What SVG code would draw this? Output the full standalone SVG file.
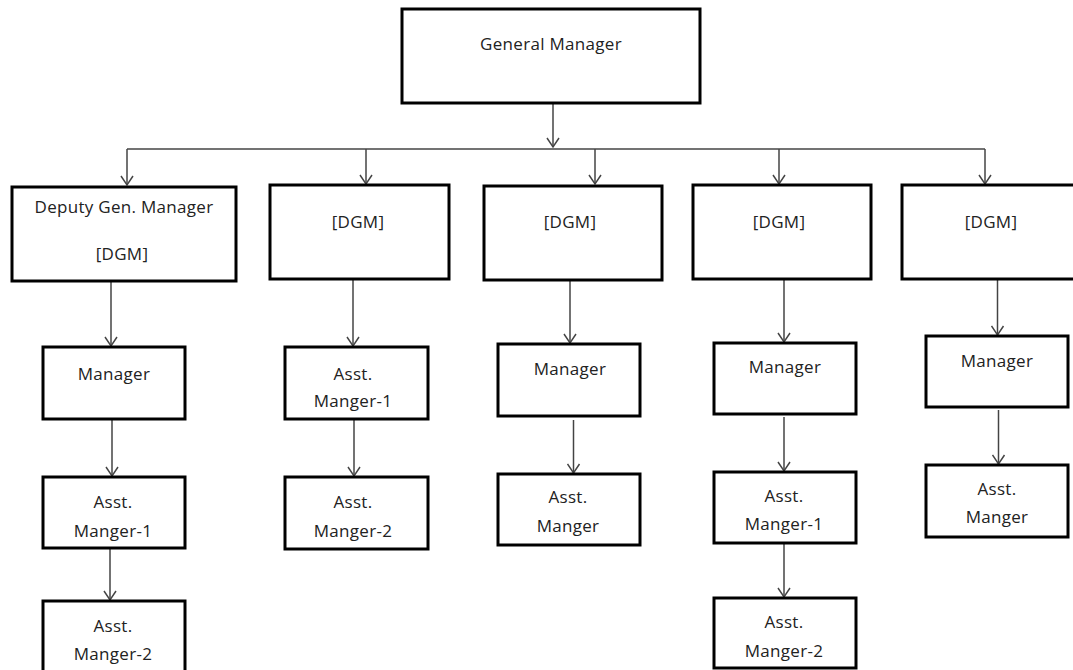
<svg xmlns="http://www.w3.org/2000/svg" width="1073" height="670" viewBox="0 0 1073 670">
<style>
.box{fill:#fff;stroke:#000;stroke-width:3}
.t{font-family:"Open Sans",sans-serif;font-size:17px;fill:#222;text-anchor:middle;letter-spacing:0.3px}
.c{fill:none;stroke:#444;stroke-width:1.5}
</style>
<defs>
<marker id="a" viewBox="-11 -7 13 14" markerWidth="13" markerHeight="14" refX="0" refY="0" orient="auto" markerUnits="userSpaceOnUse">
<path d="M-9,-6 L0,0 L-9,6" fill="none" stroke="#444" stroke-width="1.5"/>
</marker>
</defs>
<g id="connectors">
<line class="c" x1="553" y1="103" x2="553" y2="147" marker-end="url(#a)"/>
<line class="c" x1="127" y1="149" x2="985" y2="149"/>
<line class="c" x1="127" y1="149" x2="127" y2="185" marker-end="url(#a)"/>
<line class="c" x1="366" y1="149" x2="366" y2="184" marker-end="url(#a)"/>
<line class="c" x1="595" y1="149" x2="595" y2="184" marker-end="url(#a)"/>
<line class="c" x1="779" y1="149" x2="779" y2="184" marker-end="url(#a)"/>
<line class="c" x1="985" y1="149" x2="985" y2="184" marker-end="url(#a)"/>
<line class="c" x1="111" y1="281" x2="111" y2="346" marker-end="url(#a)"/>
<line class="c" x1="112" y1="419" x2="112" y2="476" marker-end="url(#a)"/>
<line class="c" x1="110" y1="548" x2="110" y2="600" marker-end="url(#a)"/>
<line class="c" x1="353" y1="279" x2="353" y2="346" marker-end="url(#a)"/>
<line class="c" x1="354" y1="419" x2="354" y2="476" marker-end="url(#a)"/>
<line class="c" x1="570" y1="280" x2="570" y2="343" marker-end="url(#a)"/>
<line class="c" x1="573.5" y1="420" x2="573.5" y2="473" marker-end="url(#a)"/>
<line class="c" x1="784" y1="279" x2="784" y2="342" marker-end="url(#a)"/>
<line class="c" x1="784" y1="417" x2="784" y2="471" marker-end="url(#a)"/>
<line class="c" x1="784" y1="543" x2="784" y2="597" marker-end="url(#a)"/>
<line class="c" x1="997.5" y1="277" x2="997.5" y2="335" marker-end="url(#a)"/>
<line class="c" x1="998.5" y1="410" x2="998.5" y2="464" marker-end="url(#a)"/>
</g>
<g id="gm"><rect class="box" x="402" y="9" width="298" height="94"/><text class="t" x="551" y="50">General Manager</text></g>
<g id="dgm1"><rect class="box" x="12" y="187" width="224" height="94"/><text class="t" x="124" y="213">Deputy Gen. Manager</text><text class="t" x="122" y="260">[DGM]</text></g>
<g id="dgm2"><rect class="box" x="270" y="185" width="179" height="94"/><text class="t" x="358" y="228">[DGM]</text></g>
<g id="dgm3"><rect class="box" x="484" y="186" width="178" height="94"/><text class="t" x="570" y="228">[DGM]</text></g>
<g id="dgm4"><rect class="box" x="693" y="185" width="178" height="94"/><text class="t" x="779" y="228">[DGM]</text></g>
<g id="dgm5"><rect class="box" x="902" y="185" width="190" height="94"/><text class="t" x="991" y="228">[DGM]</text></g>
<g id="c1m"><rect class="box" x="43" y="347" width="142" height="72"/><text class="t" x="114" y="380">Manager</text></g>
<g id="c1a1"><rect class="box" x="43" y="477" width="142" height="71"/><text class="t" x="113" y="508">Asst.</text><text class="t" x="113" y="537">Manger-1</text></g>
<g id="c1a2"><rect class="box" x="43" y="601" width="142" height="80"/><text class="t" x="113" y="632">Asst.</text><text class="t" x="113" y="660">Manger-2</text></g>
<g id="c2a1"><rect class="box" x="285" y="347" width="143" height="72"/><text class="t" x="353" y="380">Asst.</text><text class="t" x="353" y="407">Manger-1</text></g>
<g id="c2a2"><rect class="box" x="285" y="477" width="143" height="72"/><text class="t" x="353" y="508">Asst.</text><text class="t" x="353" y="537">Manger-2</text></g>
<g id="c3m"><rect class="box" x="498" y="344" width="142" height="72"/><text class="t" x="570" y="375">Manager</text></g>
<g id="c3a"><rect class="box" x="498" y="474" width="142" height="71"/><text class="t" x="568" y="503">Asst.</text><text class="t" x="568" y="532">Manger</text></g>
<g id="c4m"><rect class="box" x="714" y="343" width="142" height="71"/><text class="t" x="785" y="373">Manager</text></g>
<g id="c4a1"><rect class="box" x="714" y="472" width="142" height="71"/><text class="t" x="784" y="502">Asst.</text><text class="t" x="784" y="530">Manger-1</text></g>
<g id="c4a2"><rect class="box" x="714" y="598" width="142" height="70"/><text class="t" x="784" y="628">Asst.</text><text class="t" x="784" y="657">Manger-2</text></g>
<g id="c5m"><rect class="box" x="926" y="336" width="142" height="71"/><text class="t" x="997" y="367">Manager</text></g>
<g id="c5a"><rect class="box" x="926" y="465" width="142" height="72"/><text class="t" x="997" y="495">Asst.</text><text class="t" x="997" y="523">Manger</text></g>
</svg>
